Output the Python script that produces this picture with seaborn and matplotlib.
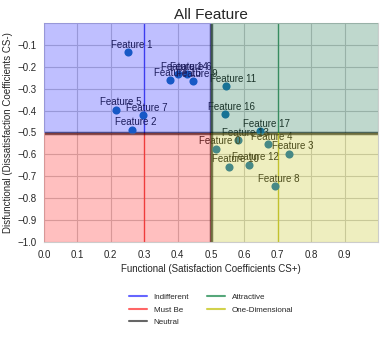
import numpy as np
import pandas as pd
import matplotlib
matplotlib.use("Agg")
import matplotlib.pyplot as plt
import seaborn as sns

features = ["Feature 0", "Feature 1", "Feature 2", "Feature 3", "Feature 4", "Feature 5",
            "Feature 6", "Feature 7", "Feature 8", "Feature 9", "Feature 10", "Feature 11",
            "Feature 12", "Feature 13", "Feature 14", "Feature 15", "Feature 16", "Feature 17"]
functional = [0.514, 0.250, 0.262, 0.733, 0.670, 0.217, 0.428, 0.295, 0.691, 0.445,
              0.553, 0.546, 0.613, 0.582, 0.400, 0.378, 0.541, 0.646]
dysfunctional = [-0.574, -0.133, -0.487, -0.597, -0.554, -0.395, -0.233, -0.422, -0.744, -0.265,
                 -0.656, -0.288, -0.647, -0.536, -0.233, -0.261, -0.417, -0.494]
x_ticks = [0.0, 0.1, 0.2, 0.3, 0.4, 0.5, 0.6, 0.7, 0.8, 0.9]
y_ticks = [-1.0, -0.9, -0.8, -0.7, -0.6, -0.5, -0.4, -0.3, -0.2, -0.1]

df = pd.DataFrame({"feature": features, "cs_plus": functional, "cs_minus": dysfunctional})

sns.set_style("whitegrid")
plt.rcParams["font.family"] = ["Liberation Sans", "DejaVu Sans"]

fig = plt.figure(figsize=(3.85, 3.43), dpi=100)
ax = fig.add_axes([44 / 385, 1 - 242 / 343, 334 / 385, 219 / 343])

sns.scatterplot(data=df, x="cs_plus", y="cs_minus", ax=ax, color="#1f77b4",
                s=34, linewidth=0, zorder=3)
for _, r in df.iterrows():
    ax.text(r.cs_plus - 0.05, r.cs_minus + 0.02, r.feature, fontsize=7,
            color="#262626", zorder=4)

# quadrant guide lines (legend entries)
ax.plot([0.3, 0.3], [-0.5, 0.0], color="#0000ff", alpha=0.6, lw=1, label="Indifferent", zorder=2)
ax.plot([0.3, 0.3], [-1.0, -0.5], color="#ff0000", alpha=0.6, lw=1, label="Must Be", zorder=2)
ax.plot([0.5, 0.5], [-1.0, 0.0], color="black", alpha=0.6, lw=2.5, label="Neutral", zorder=2)
ax.plot([0.0, 1.0], [-0.5, -0.5], color="black", alpha=0.6, lw=2.5, zorder=2)
ax.plot([0.7, 0.7], [-0.5, 0.0], color="#1e8a4e", alpha=0.75, lw=1, label="Attractive", zorder=2)
ax.plot([0.7, 0.7], [-1.0, -0.5], color="#bfbf00", alpha=0.7, lw=1, label="One-Dimensional", zorder=2)

# quadrant fills drawn on top
ax.fill_between([0.0, 0.5], -0.5, 0.0, color="#0000ff", alpha=0.25, lw=0, zorder=5)
ax.fill_between([0.0, 0.5], -1.0, -0.5, color="#ff0000", alpha=0.25, lw=0, zorder=5)
ax.fill_between([0.5, 1.0], -0.5, 0.0, color="#00643a", alpha=0.25, lw=0, zorder=5)
ax.fill_between([0.5, 1.0], -1.0, -0.5, color="#bfbf00", alpha=0.25, lw=0, zorder=5)

ax.set_xlim(0, 1)
ax.set_ylim(-1, 0)
ax.set_xticks(x_ticks)
ax.set_yticks(y_ticks)
ax.set_xticklabels([f"{v:.1f}" for v in x_ticks])
ax.set_yticklabels([f"{v:.1f}".replace("-", "\u2212") for v in y_ticks])
ax.tick_params(labelsize=7, pad=2)
ax.set_axisbelow(True)
ax.set_xlabel("Functional (Satisfaction Coefficients CS+)", fontsize=7, labelpad=3)
ax.set_ylabel("Disfunctional (Dissatisfaction Coefficients CS-)", fontsize=7, labelpad=3)
ax.set_title("All Feature", fontsize=11, pad=3)

leg = ax.legend(loc="center", bbox_to_anchor=(0.5, -0.31), ncol=2, frameon=False,
                fontsize=5.8, handlelength=2.3, columnspacing=2.2, labelspacing=0.6)
for h in leg.get_lines():
    h.set_linewidth(1.5)

fig.savefig("out.png", dpi=100)
